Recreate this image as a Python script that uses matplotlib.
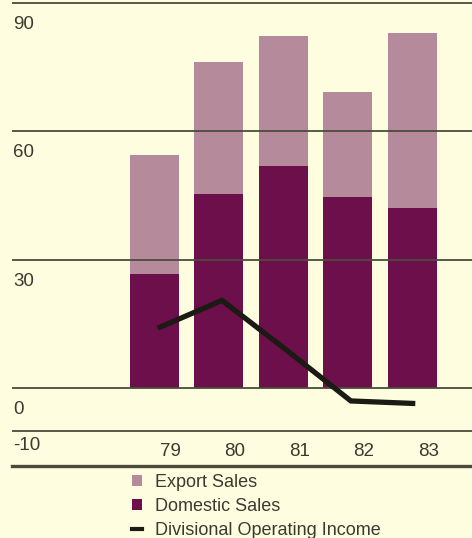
import matplotlib
matplotlib.use("Agg")
import matplotlib.pyplot as plt
import numpy as np
from matplotlib.patches import Patch
from matplotlib.lines import Line2D

# --- DATA ---
years = ["79", "80", "81", "82", "83"]
domestic = [26.7, 45.4, 51.8, 44.6, 42.2]
total = [54.5, 76.3, 82.3, 69.3, 83.1]
export = [t - d for t, d in zip(total, domestic)]
income = [14.0, 20.5, 8.9, -3.0, -3.6]
grid_vals = [90, 60, 30, 0, -10]
grid_labels = ["90", "60", "30", "0", "-10"]

# --- STYLE ---
bg = "#fffde0"
c_export = "#b58b9b"
c_domestic = "#6c0f4a"
c_line = "#1b1a14"
c_grid = "#4b4b3c"
plt.rcParams.update({
    "font.family": ["Liberation Sans", "DejaVu Sans"],
    "text.color": "#3a3a30",
})

fig = plt.figure(figsize=(4.72, 5.38), dpi=100, facecolor=bg)
# axes spans from the left end of the rules to the right edge, down to the thick base rule
ax = fig.add_axes([12 / 472, 72 / 538, 460 / 472, 466 / 538])
ax.set_facecolor(bg)

x = np.arange(len(years))
ax.bar(x, domestic, width=0.76, color=c_domestic, zorder=2)
ax.bar(x, export, width=0.76, bottom=domestic, color=c_export, zorder=2)
ax.plot(x + 0.05, income, color=c_line, lw=3.8, solid_capstyle="butt",
        solid_joinstyle="miter", zorder=4)

# value labels sit just below their rule, at the left end
for v, lab in zip(grid_vals, grid_labels):
    ax.axhline(v, color=c_grid, lw=1.3, zorder=3)
    drop = 5.0 if v != -10 else 3.5
    ax.text(-2.19, v - drop, lab, ha="left", va="center", fontsize=13.5)

for xi, lab in zip(x, years):
    ax.text(xi + 0.25, -14.9, lab, ha="center", va="center", fontsize=13.5)

ax.set_xlim(-2.21, 4.93)
ax.set_ylim(-18.2, 90.7)
for s in ["top", "left", "right"]:
    ax.spines[s].set_visible(False)
ax.spines["bottom"].set_color(c_grid)
ax.spines["bottom"].set_linewidth(2.4)
ax.set_xticks([])
ax.set_yticks([])

handles = [
    Patch(facecolor=c_export, edgecolor="none", label="Export Sales"),
    Patch(facecolor=c_domestic, edgecolor="none", label="Domestic Sales"),
    Line2D([0], [0], color=c_line, lw=3, label="Divisional Operating Income"),
]
fig.legend(handles=handles, loc="upper left", bbox_to_anchor=(132 / 472, 1 - 474 / 538),
           frameon=False, fontsize=13, handlelength=0.55, handleheight=0.5,
           handletextpad=0.75, labelspacing=0.38, borderpad=0, borderaxespad=0)

fig.savefig("out.png", dpi=100, facecolor=bg)
